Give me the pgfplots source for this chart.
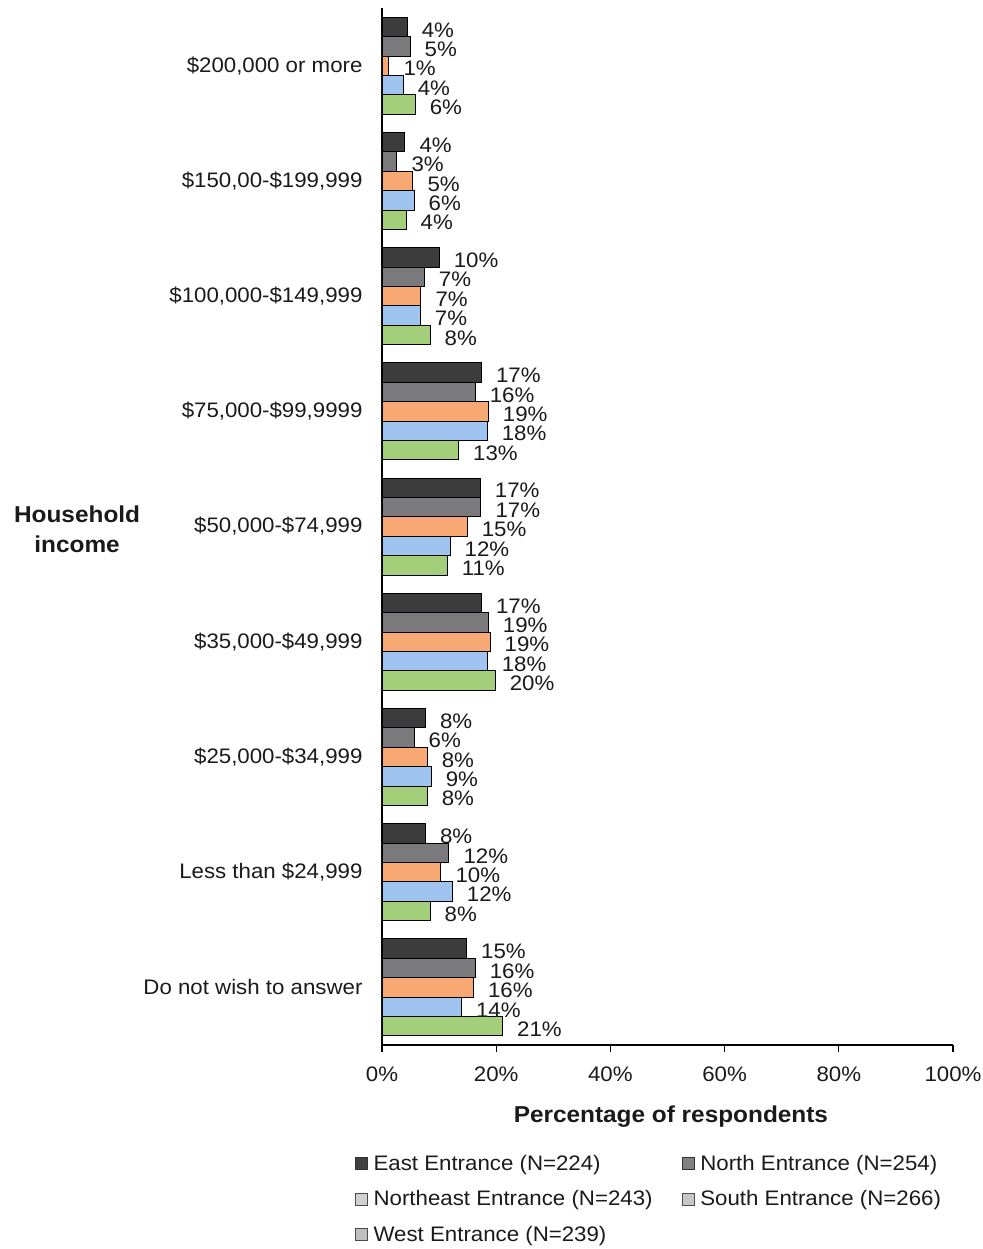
\documentclass[border=0pt]{standalone}
\usepackage{pgfplots}
\pgfplotsset{compat=1.18}
\usepackage{fontspec}
\setmainfont[FakeStretch=1.06]{Liberation Sans}
\definecolor{cEast}{HTML}{3C3C3C}
\definecolor{cNorth}{HTML}{7A7A7C}
\definecolor{cNE}{HTML}{F8A873}
\definecolor{cSouth}{HTML}{A0C4F0}
\definecolor{cWest}{HTML}{A3CF7A}
\definecolor{txt}{HTML}{1A1A1A}
\begin{document}
\begin{tikzpicture}
\useasboundingbox (-382bp,-204bp) rectangle (601bp,1045bp);
\begin{axis}[
  at={(0,0)}, anchor=south west,
  scale only axis, width=571bp, height=1037bp,
  xmin=0, xmax=100, ymin=-0.5, ymax=8.5,
  xbar, bar width=19.4bp,
  clip=false,
  axis x line*=bottom, axis y line*=left,
  axis line style={black, line width=1.2bp},
  /pgf/number format/assume math mode=true,
  xtick={0,20,...,100},
  xticklabel={\pgfmathprintnumber{\tick}\%},
  tick align=outside, major tick length=7bp,
  xtick style={black, line width=1.2bp},
  ytick={0,...,8},
  ytick style={draw=none},
  yticklabels={{Do not wish to answer},{Less than \$24,999},{\$25,000-\$34,999},{\$35,000-\$49,999},{\$50,000-\$74,999},{\$75,000-\$99,9999},{\$100,000-\$149,999},{\$150,00-\$199,999},{\$200,000 or more}},
  every tick label/.append style={font=\fontsize{21bp}{24bp}\selectfont, text=txt},
  xticklabel style={yshift=-11bp},
  yticklabel style={xshift=-9bp},
  xlabel={Percentage of respondents},
  xlabel style={at={(axis description cs:0.506,0)}, anchor=center, yshift=-72bp, font=\fontsize{23bp}{27bp}\selectfont\bfseries, text=txt},
  ylabel={Household\\income},
  ylabel style={rotate=-90, at={(axis description cs:-0.534,0.497)}, anchor=center, align=center, font=\fontsize{23bp}{30bp}\selectfont\bfseries, text=txt},
  point meta=x,
  nodes near coords={\pgfmathprintnumber[fixed,precision=0]{\pgfplotspointmeta}\%},
  nodes near coords style={anchor=west, xshift=11bp, yshift=-3bp, font=\fontsize{21bp}{24bp}\selectfont, text=txt},
  legend columns=2,
  legend cell align=left,
  legend style={at={(axis description cs:-0.053,-0.102)}, anchor=north west, draw=none, fill=none,
    font=\fontsize{21bp}{24bp}\selectfont, text=txt,
    /tikz/every even column/.append style={column sep=27bp},
    row sep=15bp, nodes={inner sep=2bp}},
  every axis plot/.append style={draw=black, line width=0.8bp},
]
\addplot[fill=cEast, bar shift=38.8bp,
  legend image code/.code={\draw[fill=black!75, draw=black!80, line width=0.6bp] (0bp,-6bp) rectangle (12bp,6bp); \path (16bp,0bp);}]
  coordinates {(4.4,8) (4.0,7) (10.0,6) (17.4,5) (17.2,4) (17.4,3) (7.6,2) (7.6,1) (14.8,0)};
\addplot[fill=cNorth, bar shift=19.4bp,
  legend image code/.code={\draw[fill=black!50, draw=black!80, line width=0.6bp] (0bp,-6bp) rectangle (12bp,6bp); \path (16bp,0bp);}]
  coordinates {(4.9,8) (2.6,7) (7.4,6) (16.3,5) (17.3,4) (18.6,3) (5.6,2) (11.7,1) (16.3,0)};
\addplot[fill=cNE, bar shift=0bp,
  legend image code/.code={\draw[fill=black!18, draw=black!70, line width=0.6bp] (0bp,-6bp) rectangle (12bp,6bp); \path (16bp,0bp);}]
  coordinates {(1.2,8) (5.4,7) (6.8,6) (18.6,5) (14.9,4) (18.9,3) (7.9,2) (10.3,1) (16.0,0)};
\addplot[fill=cSouth, bar shift=-19.4bp,
  legend image code/.code={\draw[fill=black!22, draw=black!70, line width=0.6bp] (0bp,-6bp) rectangle (12bp,6bp); \path (16bp,0bp);}]
  coordinates {(3.7,8) (5.6,7) (6.7,6) (18.4,5) (11.9,4) (18.4,3) (8.6,2) (12.3,1) (13.9,0)};
\addplot[fill=cWest, bar shift=-38.8bp,
  legend image code/.code={\draw[fill=black!25, draw=black!70, line width=0.6bp] (0bp,-6bp) rectangle (12bp,6bp); \path (16bp,0bp);}]
  coordinates {(5.8,8) (4.2,7) (8.4,6) (13.4,5) (11.4,4) (19.8,3) (7.9,2) (8.4,1) (21.1,0)};
\legend{East Entrance (N=224), North Entrance (N=254), Northeast Entrance (N=243), South Entrance (N=266), West Entrance (N=239)}
\end{axis}
\end{tikzpicture}
\end{document}
